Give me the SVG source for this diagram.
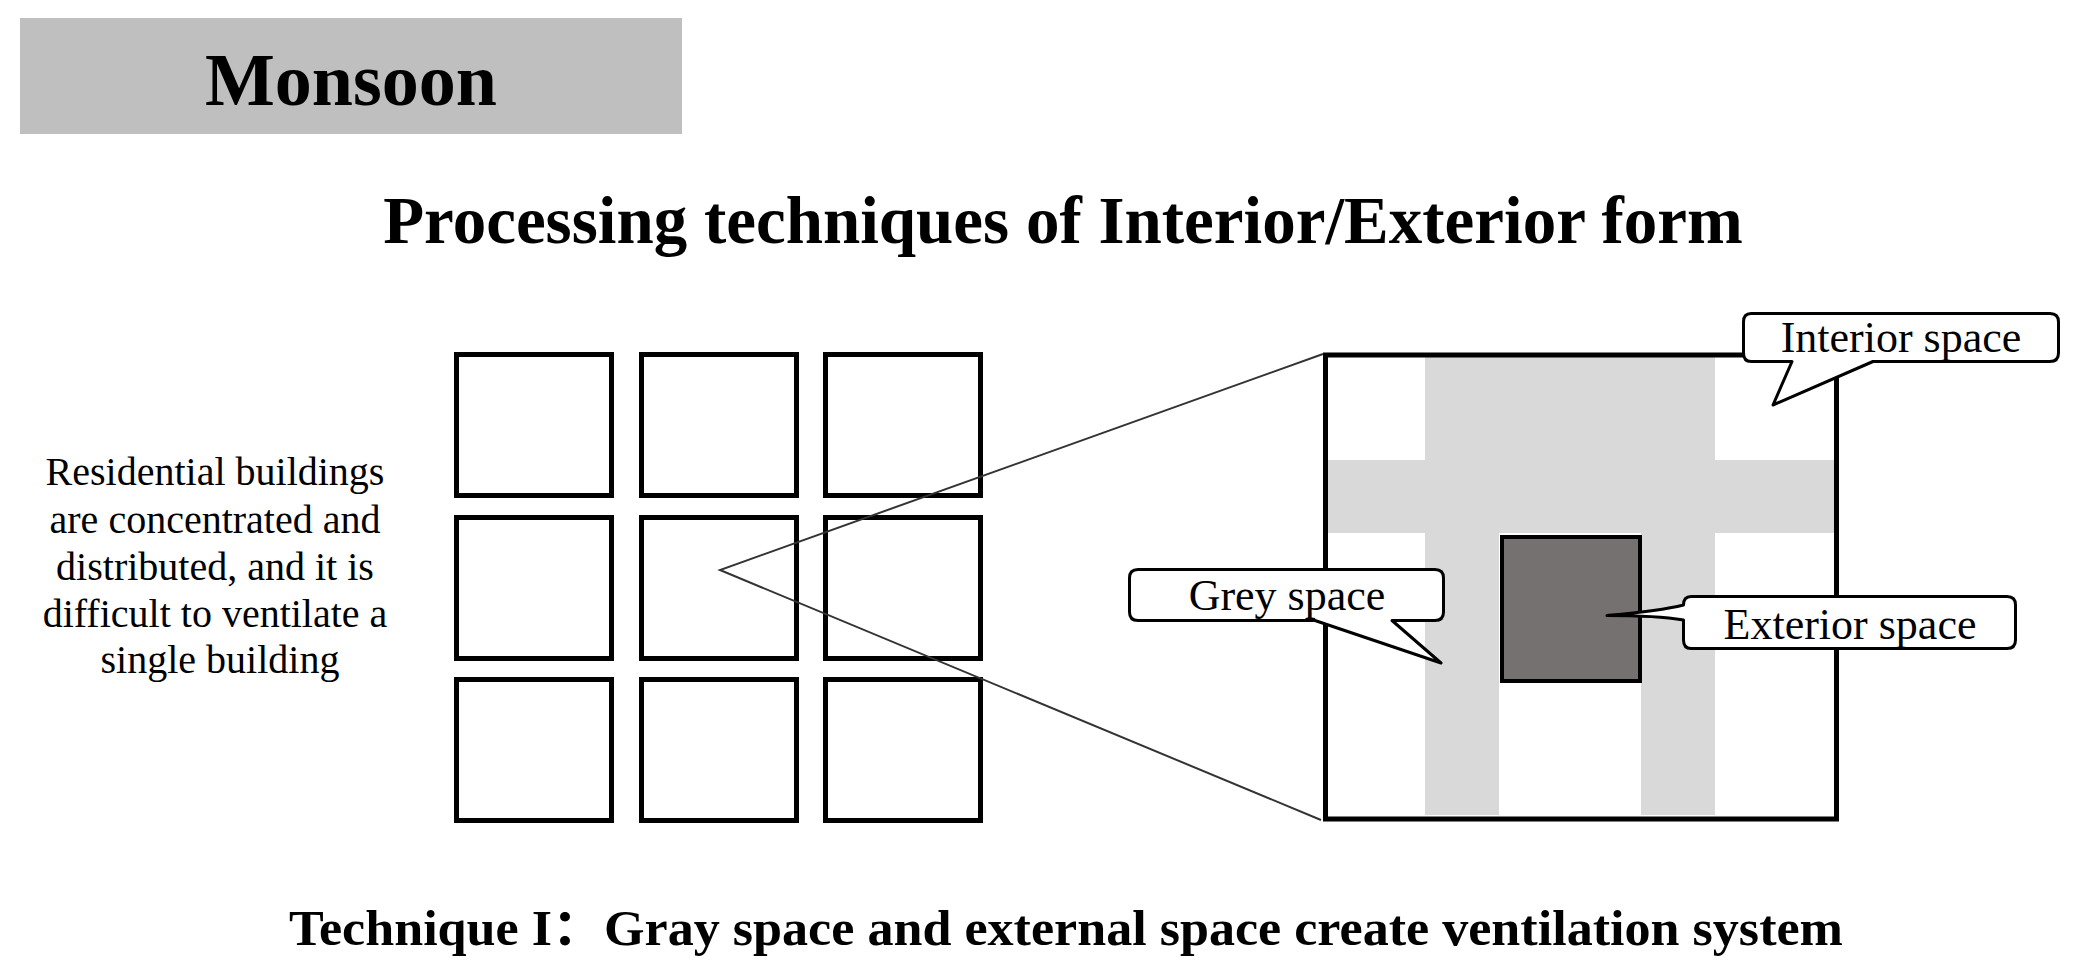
<svg xmlns="http://www.w3.org/2000/svg" width="2076" height="977" viewBox="0 0 2076 977">
<style>
.serif{font-family:"Liberation Serif","Times New Roman","Noto Sans CJK SC",serif;fill:#000}
.b{font-weight:bold}
.sq{fill:#fff;stroke:#000;stroke-width:5}
.grey{fill:#d9d9d9}
.callout{fill:#fff;stroke:#000;stroke-width:3;stroke-linejoin:round}
.lbl{font-size:44px;text-anchor:middle}
.conn{fill:none;stroke:#333;stroke-width:2}
</style>
<rect width="2076" height="977" fill="#fff"/>
<g id="header">
<rect x="20" y="18" width="662" height="116" fill="#bfbfbf"/>
<text class="serif b" x="351" y="105" font-size="74" text-anchor="middle">Monsoon</text>
</g>
<g id="title">
<text class="serif b" x="1063" y="243" font-size="67" text-anchor="middle">Processing techniques of Interior/Exterior form</text>
</g>
<g id="description">
<text class="serif" font-size="40" text-anchor="middle">
<tspan x="220" y="485">Residential buildings</tspan>
<tspan x="220" y="533">are concentrated and</tspan>
<tspan x="220" y="580">distributed, and it is</tspan>
<tspan x="220" y="627">difficult to ventilate a</tspan>
<tspan x="220" y="673">single building</tspan>
</text>
</g>
<g id="grid">
<rect class="sq" x="456.5" y="354.5" width="155" height="141"/>
<rect class="sq" x="641.5" y="354.5" width="155" height="141"/>
<rect class="sq" x="825.5" y="354.5" width="155" height="141"/>
<rect class="sq" x="456.5" y="517.5" width="155" height="141"/>
<rect class="sq" x="641.5" y="517.5" width="155" height="141"/>
<rect class="sq" x="825.5" y="517.5" width="155" height="141"/>
<rect class="sq" x="456.5" y="679.5" width="155" height="141"/>
<rect class="sq" x="641.5" y="679.5" width="155" height="141"/>
<rect class="sq" x="825.5" y="679.5" width="155" height="141"/>
</g>
<g id="connectors">
<polyline class="conn" points="1323,354 720,570 1321,820"/>
</g>
<g id="detail">
<rect x="1325.5" y="355" width="511" height="464" fill="#fff"/>
<rect class="grey" x="1425" y="355" width="290" height="178"/>
<rect class="grey" x="1326" y="460" width="511" height="73"/>
<rect class="grey" x="1425" y="533" width="74" height="282"/>
<rect class="grey" x="1641" y="533" width="74" height="282"/>
<rect x="1325.5" y="355" width="511" height="464" fill="none" stroke="#000" stroke-width="5"/>
<rect x="1502" y="537" width="138" height="144" fill="#767171" stroke="#000" stroke-width="4"/>
</g>
<g id="callout-interior">
<path class="callout" d="M1751 313.5 H2050 Q2058.5 313.5 2058.5 322 V353 Q2058.5 361.5 2050 361.5 H1873 L1773 405 L1792 361.5 H1751 Q1743.5 361.5 1743.5 353 V322 Q1743.5 313.5 1751 313.5 Z"/>
<text class="serif lbl" x="1901" y="352">Interior space</text>
</g>
<g id="callout-grey">
<path class="callout" d="M1138 569.5 H1435 Q1443.5 569.5 1443.5 578 V612 Q1443.5 620.5 1435 620.5 H1392 L1441 663 L1315 620.5 H1138 Q1129.5 620.5 1129.5 612 V578 Q1129.5 569.5 1138 569.5 Z"/>
<text class="serif lbl" x="1287" y="610">Grey space</text>
</g>
<g id="callout-exterior">
<path class="callout" d="M1691 596.5 H2007 Q2015.5 596.5 2015.5 605 V640 Q2015.5 648.5 2007 648.5 H1691 Q1683.5 648.5 1683.5 640 V620 C1660 616 1630 615.5 1607 615.5 C1630 613.5 1660 611 1683.5 605 Q1683.5 596.5 1691 596.5 Z"/>
<text class="serif lbl" x="1850" y="639">Exterior space</text>
</g>
<g id="caption">
<text class="serif b" x="289" y="945" font-size="50" textLength="1554" lengthAdjust="spacingAndGlyphs">Technique I：Gray space and external space create ventilation system</text>
</g>
</svg>
